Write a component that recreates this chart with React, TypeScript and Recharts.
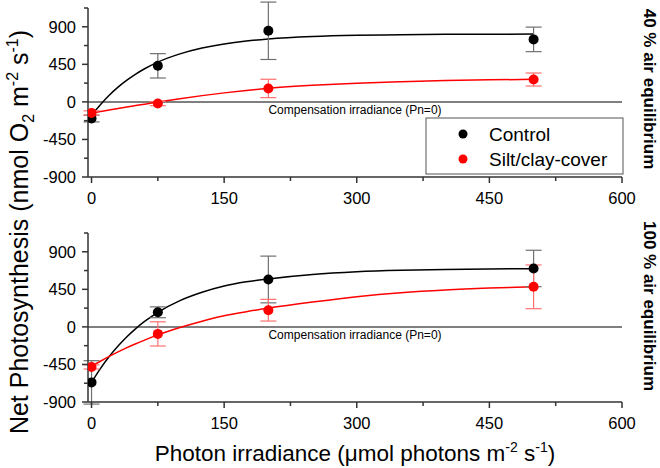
import React from 'react';
import { ComposedChart, Line, Scatter, ErrorBar, XAxis, YAxis, ReferenceLine } from 'recharts';

// measured points
const irradiance = [0, 75, 200, 500];
const control40 = [-200, 432, 852, 749];
const control40Err = [40, 146, 344, 147];
const silt40 = [-132, -20, 161, 268];
const silt40Err = [25, 25, 110, 78];
const control100 = [-665, 175, 568, 700];
const control100Err = [260, 65, 280, 218];
const silt100 = [-480, -84, 200, 480];
const silt100Err = [25, 145, 130, 262];

// fitted curves
const fitX = [0, 10, 20, 30, 40, 50, 60, 75, 100, 125, 150, 175, 200, 250, 300, 350, 400, 450, 500];
const control40Fit = [-160, -33, 80, 177, 260, 333, 397, 477, 575, 645, 695, 730, 754, 783, 798, 805, 809, 811, 812];
const silt40Fit = [-135, -116, -97, -79, -61, -44, -27, -2, 38, 75, 108, 137, 162, 198, 224, 242, 255, 264, 270];
const control100Fit = [-665, -500, -355, -230, -118, -20, 65, 175, 315, 415, 490, 540, 575, 628, 660, 678, 688, 694, 698];
const silt100Fit = [-473, -412, -354, -300, -249, -202, -158, -96, -8, 68, 133, 182, 225, 298, 362, 410, 443, 465, 480];

const xTicks = [0, 75, 150, 225, 300, 375, 450, 525, 600];
const yTicks = [-900, -675, -450, -225, 0, 225, 450, 675, 900, 1125];

const FONT = 'Liberation Sans, Arial, sans-serif';
const AXIS = '#333';

const toPoints = (ys: number[], errs: number[]) =>
  irradiance.map((x, i) => ({ x, y: ys[i], err: errs[i] }));
const toCurve = (ys: number[]) => fitX.map((x, i) => ({ x, y: ys[i] }));

const XTick = (props: any) => {
  const { x, y, payload } = props;
  const major = payload.value % 150 === 0;
  return (
    <g>
      <line x1={x} y1={y} x2={x} y2={y + (major ? 6 : 4)} stroke={AXIS} strokeWidth={1.5} />
      {major && (
        <text x={x} y={y + 27} textAnchor="middle" fontSize={16.5} fontFamily={FONT} fill="#000">
          {payload.value}
        </text>
      )}
    </g>
  );
};

const YTick = (props: any) => {
  const { x, y, payload } = props;
  const major = payload.value % 450 === 0 && payload.value !== 1125;
  return (
    <g>
      <line x1={x} y1={y} x2={x - (major ? 6 : 4)} y2={y} stroke={AXIS} strokeWidth={1.5} />
      {major && (
        <text x={x - 12} y={y + 6} textAnchor="end" fontSize={16.5} fontFamily={FONT} fill="#000">
          {payload.value}
        </text>
      )}
    </g>
  );
};

const CompLabel = (props: any) => {
  const vb = props.viewBox || {};
  return (
    <text x={vb.x + vb.width / 2} y={vb.y + 12} textAnchor="middle" fontSize={12} fontFamily={FONT} fill="#000">
      Compensation irradiance (Pn=0)
    </text>
  );
};

const dot = (color: string) => (p: any) => <circle cx={p.cx} cy={p.cy} r={5} fill={color} />;

type PanelProps = {
  height: number;
  top: number;
  bottom: number;
  control: number[];
  controlErr: number[];
  silt: number[];
  siltErr: number[];
  controlFit: number[];
  siltFit: number[];
};

const Panel = (p: PanelProps) => (
  <ComposedChart width={660} height={p.height} margin={{ top: p.top, right: 38, bottom: p.bottom, left: 28 }}>
    <XAxis
      type="number"
      dataKey="x"
      domain={[-4, 600]}
      ticks={xTicks}
      interval={0}
      allowDataOverflow
      tickSize={0}
      tickMargin={0}
      tick={<XTick />}
      height={30}
      axisLine={{ stroke: AXIS, strokeWidth: 1.5 }}
    />
    <YAxis
      type="number"
      domain={[-900, 1125]}
      ticks={yTicks}
      interval={0}
      allowDataOverflow
      tickSize={0}
      tickMargin={0}
      tick={<YTick />}
      width={60}
      axisLine={{ stroke: AXIS, strokeWidth: 1.5 }}
    />
    <ReferenceLine y={0} stroke="#555" strokeWidth={1.5} label={<CompLabel />} />
    <Line data={toCurve(p.controlFit)} dataKey="y" type="monotone" stroke="#000" strokeWidth={1.5} dot={false} isAnimationActive={false} />
    <Line data={toCurve(p.siltFit)} dataKey="y" type="monotone" stroke="#ff0000" strokeWidth={1.5} dot={false} isAnimationActive={false} />
    <Scatter data={toPoints(p.control, p.controlErr)} dataKey="y" shape={dot('#000')} isAnimationActive={false}>
      <ErrorBar dataKey="err" direction="y" width={8} stroke="#707070" strokeWidth={1.2} />
    </Scatter>
    <Scatter data={toPoints(p.silt, p.siltErr)} dataKey="y" shape={dot('#ff0000')} isAnimationActive={false}>
      <ErrorBar dataKey="err" direction="y" width={8} stroke="#ff7070" strokeWidth={1.2} />
    </Scatter>
  </ComposedChart>
);

export default function App() {
  return (
    <div style={{ position: 'absolute', left: 0, top: 0, width: 660, height: 468, background: '#fff', fontFamily: FONT }}>
      <div style={{ position: 'absolute', left: 0, top: 0 }}>
        <Panel
          height={220}
          top={8}
          bottom={13}
          control={control40}
          controlErr={control40Err}
          silt={silt40}
          siltErr={silt40Err}
          controlFit={control40Fit}
          siltFit={silt40Fit}
        />
      </div>
      <div style={{ position: 'absolute', left: 0, top: 220 }}>
        <Panel
          height={248}
          top={13}
          bottom={36}
          control={control100}
          controlErr={control100Err}
          silt={silt100}
          siltErr={silt100Err}
          controlFit={control100Fit}
          siltFit={silt100Fit}
        />
      </div>
      <svg width={660} height={468} style={{ position: 'absolute', left: 0, top: 0, pointerEvents: 'none' }}>
        <text transform="translate(28,232) rotate(-90)" textAnchor="middle" fontSize={25} fontFamily={FONT} fill="#000">
          Net Photosynthesis (nmol O<tspan fontSize={16} dy={6}>2</tspan>
          <tspan dy={-6}> m</tspan>
          <tspan fontSize={16} dy={-10}>-2</tspan>
          <tspan dy={10}> s</tspan>
          <tspan fontSize={16} dy={-10}>-1</tspan>
          <tspan dy={10}>)</tspan>
        </text>
        <text x={355} y={461} textAnchor="middle" fontSize={22.5} fontFamily={FONT} fill="#000">
          Photon irradiance (μmol photons m<tspan fontSize={14} dy={-9}>-2</tspan>
          <tspan dy={9}> s</tspan>
          <tspan fontSize={14} dy={-9}>-1</tspan>
          <tspan dy={9}>)</tspan>
        </text>
        <text transform="translate(644,89) rotate(90)" textAnchor="middle" fontSize={17} fontWeight="bold" fontFamily={FONT} fill="#000">
          40 % air equilibrium
        </text>
        <text transform="translate(644,306) rotate(90)" textAnchor="middle" fontSize={17} fontWeight="bold" fontFamily={FONT} fill="#000">
          100 % air equilibrium
        </text>
        <rect x={426} y={118} width={197} height={56} fill="#fff" stroke="#555" strokeWidth={1} />
        <circle cx={463} cy={134} r={4.5} fill="#000" />
        <text x={489} y={141} fontSize={19} fontFamily={FONT} fill="#000">Control</text>
        <circle cx={463} cy={159} r={4.5} fill="#ff0000" />
        <text x={489} y={165.5} fontSize={19} fontFamily={FONT} fill="#000">Silt/clay-cover</text>
      </svg>
    </div>
  );
}
